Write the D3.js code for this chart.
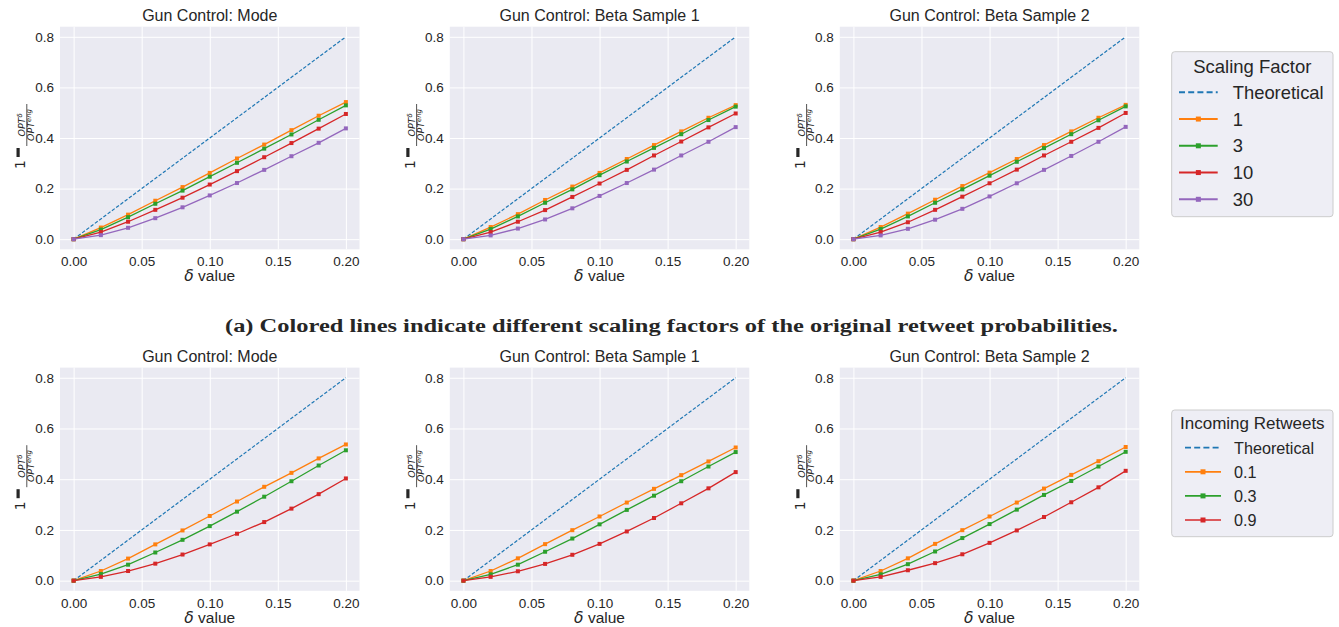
<!DOCTYPE html>
<html>
<head>
<meta charset="utf-8">
<script src="https://cdn.jsdelivr.net/npm/d3@7"></script>
<style>
  body { margin: 0; background: #fff; }
  svg text { font-family: "Liberation Sans", Arial, sans-serif; fill: #262626; }
</style>
</head>
<body>
<div class="chart"></div>
<script>
// ---- data ----
const deltas = [0, 0.02, 0.04, 0.06, 0.08, 0.10, 0.12, 0.14, 0.16, 0.18, 0.20];
const theoretical = [0, 0.08, 0.16, 0.24, 0.32, 0.40, 0.48, 0.56, 0.64, 0.72, 0.80];

const scalingFactors = ["1", "3", "10", "30"];
const incomingRetweets = ["0.1", "0.3", "0.9"];
const panelTitles = ["Gun Control: Mode", "Gun Control: Beta Sample 1", "Gun Control: Beta Sample 2"];

// top row: one array per scaling factor (1, 3, 10, 30)
const scaleMode = [
  [0, 0.046, 0.097, 0.152, 0.206, 0.262, 0.319, 0.374, 0.431, 0.488, 0.542],
  [0, 0.038, 0.087, 0.140, 0.192, 0.247, 0.302, 0.358, 0.414, 0.472, 0.529],
  [0, 0.028, 0.069, 0.116, 0.164, 0.216, 0.269, 0.324, 0.380, 0.437, 0.495],
  [0, 0.016, 0.045, 0.083, 0.126, 0.173, 0.222, 0.274, 0.328, 0.381, 0.438]
];
const scaleBeta1 = [
  [0, 0.048, 0.099, 0.155, 0.208, 0.262, 0.317, 0.372, 0.426, 0.480, 0.530],
  [0, 0.040, 0.090, 0.144, 0.197, 0.253, 0.307, 0.361, 0.415, 0.471, 0.524],
  [0, 0.028, 0.069, 0.115, 0.167, 0.220, 0.274, 0.331, 0.386, 0.442, 0.497],
  [0, 0.015, 0.042, 0.078, 0.122, 0.171, 0.222, 0.275, 0.331, 0.385, 0.443]
];
const scaleBeta2 = [
  [0, 0.048, 0.101, 0.156, 0.210, 0.263, 0.317, 0.372, 0.426, 0.480, 0.531],
  [0, 0.040, 0.090, 0.144, 0.197, 0.251, 0.306, 0.360, 0.415, 0.470, 0.525],
  [0, 0.028, 0.067, 0.116, 0.168, 0.221, 0.275, 0.331, 0.385, 0.440, 0.499],
  [0, 0.015, 0.041, 0.077, 0.120, 0.169, 0.221, 0.274, 0.329, 0.385, 0.444]
];

// bottom row: one array per incoming retweet probability (0.1, 0.3, 0.9)
const retweetMode = [
  [0, 0.038, 0.087, 0.143, 0.198, 0.255, 0.312, 0.370, 0.425, 0.482, 0.537],
  [0, 0.026, 0.063, 0.111, 0.161, 0.215, 0.272, 0.331, 0.392, 0.454, 0.514],
  [0, 0.015, 0.038, 0.067, 0.103, 0.143, 0.185, 0.231, 0.284, 0.341, 0.403]
];
const retweetBeta1 = [
  [0, 0.038, 0.088, 0.144, 0.199, 0.253, 0.308, 0.362, 0.416, 0.470, 0.525],
  [0, 0.025, 0.063, 0.114, 0.166, 0.222, 0.279, 0.335, 0.392, 0.450, 0.507],
  [0, 0.015, 0.037, 0.066, 0.102, 0.145, 0.194, 0.247, 0.305, 0.364, 0.428]
];
const retweetBeta2 = [
  [0, 0.038, 0.088, 0.145, 0.199, 0.253, 0.308, 0.363, 0.417, 0.471, 0.527],
  [0, 0.025, 0.065, 0.115, 0.168, 0.223, 0.280, 0.338, 0.393, 0.450, 0.508],
  [0, 0.015, 0.041, 0.069, 0.104, 0.149, 0.198, 0.251, 0.309, 0.368, 0.433]
];

const xTicks = [0, 0.05, 0.10, 0.15, 0.20];
const yTicks = [0, 0.2, 0.4, 0.6, 0.8];
const captionText = "(a) Colored lines indicate different scaling factors of the original retweet probabilities.";

const theoColor = "#1f77b4";
const lineColors = ["#ff7f0e", "#2ca02c", "#d62728", "#9467bd"];

// ---- layout ----
const width = 1339, height = 627;
const panelLefts = [60, 449.8, 839.8];
const panelW = 299.5;
const rows = [
  { top: 26.7, bottom: 249.3, sets: [scaleMode, scaleBeta1, scaleBeta2] },
  { top: 367.6, bottom: 590.8, sets: [retweetMode, retweetBeta1, retweetBeta2] }
];

let svg = d3.select(".chart").append("svg")
  .attr("width", width)
  .attr("height", height);

function yLabel(g, x, cy) {
  // 1 - OPT^delta / OPT^eng, rotated
  let lab = g.append("g")
    .attr("transform", "translate(" + x + "," + cy + ") rotate(-90)");
  let f = "DejaVu Sans, sans-serif";
  lab.append("text").attr("x", -33).attr("y", 0)
    .style("font-family", f).attr("font-size", 14).text("1");
  lab.append("rect").attr("x", -21).attr("y", -8.5).attr("width", 9).attr("height", 3.2)
    .attr("fill", "#262626");
  lab.append("line").attr("x1", -10).attr("x2", 32).attr("y1", 1.8).attr("y2", 1.8)
    .attr("stroke", "#262626").attr("stroke-width", 0.8);
  let num = lab.append("text").attr("x", 11).attr("y", 0.2).attr("text-anchor", "middle")
    .style("font-family", f).attr("font-size", 9.5).attr("font-style", "italic");
  num.append("tspan").text("OPT");
  num.append("tspan").attr("dy", -3.5).attr("font-size", 6.8).text("δ");
  let den = lab.append("text").attr("x", 11).attr("y", 9.2).attr("text-anchor", "middle")
    .style("font-family", f).attr("font-size", 9.5).attr("font-style", "italic");
  den.append("tspan").text("OPT");
  den.append("tspan").attr("dy", -3.5).attr("font-size", 6.8).text("eng");
}

function drawPanel(left, row, title, series) {
  let x = d3.scaleLinear().domain([-0.01, 0.21]).range([left, left + panelW]);
  let y = d3.scaleLinear().domain([-0.04, 0.84]).range([row.bottom, row.top]);
  let g = svg.append("g");

  g.append("rect")
    .attr("x", x.range()[0]).attr("y", row.top)
    .attr("width", panelW).attr("height", row.bottom - row.top)
    .attr("fill", "#eaeaf2");

  // grid via axes
  let gx = g.append("g").attr("transform", "translate(0," + row.bottom + ")")
    .call(d3.axisBottom(x).tickValues(xTicks).tickFormat(d3.format(".2f"))
      .tickSize(-(row.bottom - row.top)));
  let gy = g.append("g").attr("transform", "translate(" + left + ",0)")
    .call(d3.axisLeft(y).tickValues(yTicks).tickFormat(d3.format(".1f"))
      .tickSize(-panelW).tickPadding(6));
  [gx, gy].forEach(function(a) {
    a.select(".domain").remove();
    a.selectAll(".tick line").attr("stroke", "#fff").attr("stroke-width", 1);
    a.selectAll(".tick text").attr("font-size", 13.5)
      .style("font-family", "Liberation Sans, Arial, sans-serif").attr("fill", "#262626");
  });
  gx.selectAll(".tick text").attr("dy", 0).attr("y", 16.8);

  let line = d3.line()
    .x(function(d, i) { return x(deltas[i]); })
    .y(function(d) { return y(d); });

  g.append("path").datum(theoretical)
    .attr("d", line).attr("fill", "none")
    .attr("stroke", theoColor).attr("stroke-width", 1.2)
    .attr("stroke-dasharray", "3.5,1.8");

  series.forEach(function(vals, k) {
    g.append("path").datum(vals)
      .attr("d", line).attr("fill", "none")
      .attr("stroke", lineColors[k]).attr("stroke-width", 1.3);
    g.selectAll(null).data(vals).enter().append("rect")
      .attr("x", function(d, i) { return x(deltas[i]) - 2; })
      .attr("y", function(d) { return y(d) - 2; })
      .attr("width", 4).attr("height", 4)
      .attr("fill", lineColors[k]);
  });

  g.append("text")
    .attr("x", left + panelW / 2).attr("y", row.top - 5.3)
    .attr("text-anchor", "middle").attr("font-size", 16)
    .text(title);

  let xl = g.append("text")
    .attr("x", left + panelW / 2).attr("y", row.bottom + 32)
    .attr("text-anchor", "middle").attr("font-size", 15.5);
  xl.append("tspan").attr("font-style", "italic").style("font-family", "DejaVu Sans, sans-serif").text("δ");
  xl.append("tspan").text(" value");

  yLabel(g, left - 35, (row.top + row.bottom) / 2 - 2);
}

rows.forEach(function(row) {
  row.sets.forEach(function(series, p) {
    drawPanel(panelLefts[p], row, panelTitles[p], series);
  });
});

// caption between the rows
svg.append("text")
  .attr("x", 671.5).attr("y", 331.5)
  .attr("text-anchor", "middle")
  .style("font-family", "Liberation Serif, serif")
  .attr("font-weight", "bold")
  .attr("font-size", 18.5)
  .attr("textLength", 893)
  .attr("lengthAdjust", "spacingAndGlyphs")
  .text(captionText);

// legends
function drawLegend(box, title, labels, opts) {
  let lg = svg.append("g");
  lg.append("rect")
    .attr("x", box.x).attr("y", box.y).attr("width", box.w).attr("height", box.h)
    .attr("rx", 3).attr("fill", "#eeeef5").attr("stroke", "#cccccc").attr("stroke-width", 1);
  lg.append("text")
    .attr("x", box.x + box.w / 2).attr("y", opts.titleY)
    .attr("text-anchor", "middle").attr("font-size", opts.titleSize)
    .text(title);

  let entries = ["Theoretical"].concat(labels);
  entries.forEach(function(name, i) {
    let cy = opts.rowY + i * opts.step;
    let col = i === 0 ? theoColor : lineColors[i - 1];
    lg.append("line")
      .attr("x1", opts.x1).attr("x2", opts.x2).attr("y1", cy).attr("y2", cy)
      .attr("stroke", col).attr("stroke-width", opts.lw)
      .attr("stroke-dasharray", i === 0 ? "6,3.2" : null);
    if (i > 0) {
      lg.append("rect")
        .attr("x", (opts.x1 + opts.x2) / 2 - 2.5).attr("y", cy - 2.5)
        .attr("width", 5).attr("height", 5).attr("fill", col);
    }
    lg.append("text")
      .attr("x", opts.tx).attr("y", cy).attr("dy", "0.36em")
      .attr("font-size", opts.size).text(name);
  });
}

drawLegend({ x: 1171.7, y: 51.7, w: 161.3, h: 165 }, "Scaling Factor", scalingFactors,
  { titleY: 72.6, titleSize: 18.5, rowY: 92.3, step: 26.75, x1: 1179, x2: 1217.7, tx: 1232.7, size: 18.4, lw: 1.9 });

drawLegend({ x: 1171.7, y: 410, w: 161.3, h: 126.7 }, "Incoming Retweets", incomingRetweets,
  { titleY: 429.2, titleSize: 17, rowY: 447.7, step: 24.1, x1: 1185, x2: 1221, tx: 1234, size: 16.2, lw: 1.7 });
</script>
</body>
</html>
